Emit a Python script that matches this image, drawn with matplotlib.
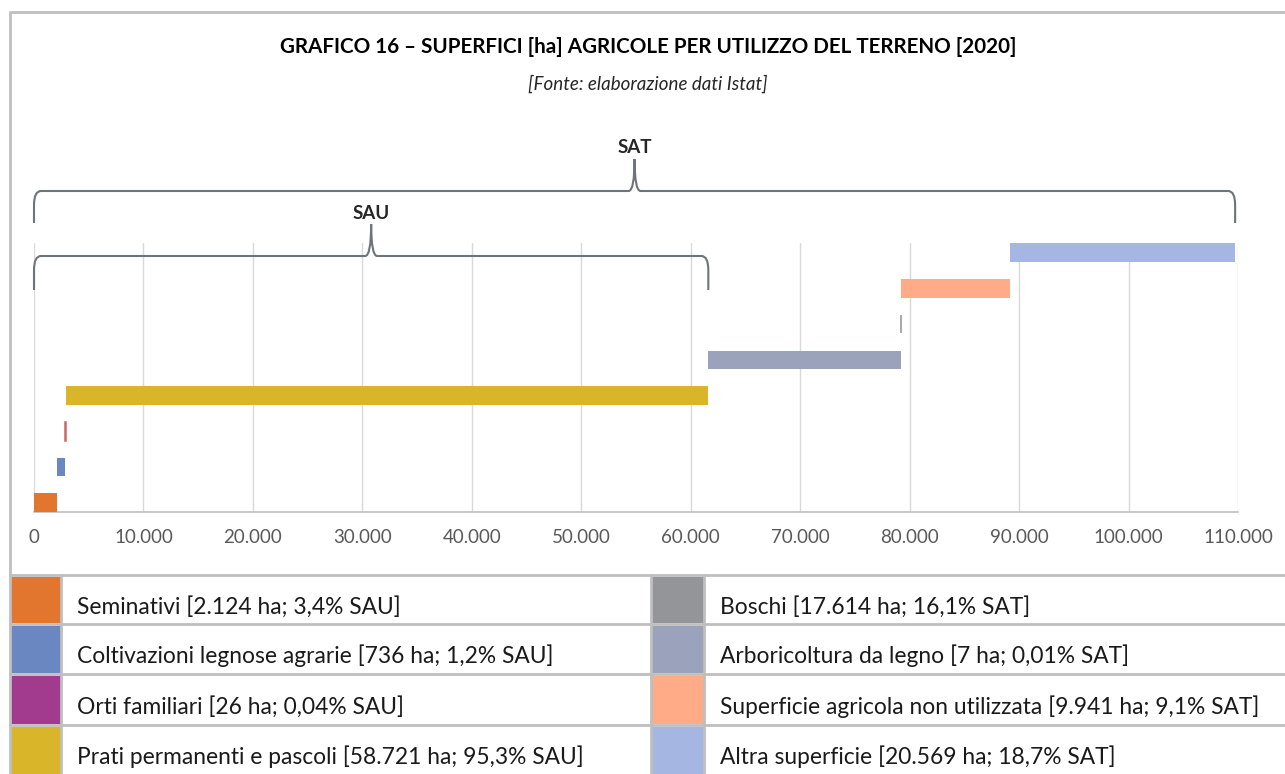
import matplotlib.pyplot as plt
import numpy as np
from matplotlib.path import Path
from matplotlib.patches import PathPatch, Rectangle

plt.rcParams['font.family'] = ['Lato', 'DejaVu Sans']

# dati [ha]
categorie = [
    "Seminativi",
    "Coltivazioni legnose agrarie",
    "Orti familiari",
    "Prati permanenti e pascoli",
    "Boschi",
    "Arboricoltura da legno",
    "Superficie agricola non utilizzata",
    "Altra superficie",
]
ettari = [2124, 736, 26, 58721, 17614, 7, 9941, 20569]
percentuali = ["3,4% SAU", "1,2% SAU", "0,04% SAU", "95,3% SAU",
               "16,1% SAT", "0,01% SAT", "9,1% SAT", "18,7% SAT"]
legend_colors = ["#E2762F", "#6A87C2", "#A23B8D", "#D9B52A",
                 "#939598", "#9BA3BC", "#FFAB88", "#A4B6E1"]
bar_colors = ["#E2762F", "#6A87C2", "#D0675F", "#D9B52A",
              "#9BA3BC", "#909090", "#FFAB88", "#A4B6E1"]
xticks = np.arange(0, 110001, 10000)

titolo = "GRAFICO 16 \u2013 SUPERFICI [ha] AGRICOLE PER UTILIZZO DEL TERRENO [2020]"
sottotitolo = "[Fonte: elaborazione dati Istat]"

valori = np.array(ettari)
fine = np.cumsum(valori)
inizio = fine - valori
sau = fine[3]
sat = fine[-1]

W, H = 1285, 774
fig = plt.figure(figsize=(W / 100, H / 100), dpi=100)
renderer = fig.canvas.get_renderer()


def adatta(t, larghezza):
    # scala il font perche' il testo occupi la larghezza voluta (px)
    w = t.get_window_extent(renderer).width
    t.set_fontsize(t.get_fontsize() * larghezza / w)
    return t.get_fontsize()


# overlay in pixel
ov = fig.add_axes([0, 0, 1, 1])
ov.set_xlim(0, W)
ov.set_ylim(H, 0)
ov.axis("off")
ov.patch.set_alpha(0)

ax_l, ax_r, ax_t, ax_b = 34, 1238, 243, 512
ax = fig.add_axes([ax_l / W, (H - ax_b) / H, (ax_r - ax_l) / W, (ax_b - ax_t) / H])
ax.patch.set_alpha(0)

y = np.arange(len(valori))
lw = [1.1 if v < 100 else 0 for v in valori]
ax.barh(y, valori, left=inizio, height=0.52, color=bar_colors,
        edgecolor=bar_colors, linewidth=lw, zorder=3)

ax.set_xlim(0, 110000)
ax.set_ylim(-0.26, 7.27)
ax.set_xticks(xticks)
ax.set_xticklabels([f"{int(v):,}".replace(",", ".") for v in xticks])
ax.set_yticks([])
ax.tick_params(axis="x", length=0, pad=12, labelsize=13.5, labelcolor="#595959")
ax.grid(axis="x", color="#D9D9D9", linewidth=1, zorder=0)
for s in ["top", "right", "left"]:
    ax.spines[s].set_visible(False)
ax.spines["bottom"].set_color("#BFBFBF")
ax.spines["bottom"].set_linewidth(1.2)

# graffe SAU / SAT
tr = ax.get_xaxis_transform()
px_x = 110000 / (ax_r - ax_l)


def fy(p):
    return (ax_b - p) / (ax_b - ax_t)


def graffa(x0, x1, yh, ye, yt):
    xm = (x0 + x1) / 2
    r = 7 * px_x
    t = 6 * px_x
    verts = [
        (x0, fy(ye)), (x0, fy(yh + 14)),
        (x0, fy(yh)), (x0 + r, fy(yh)),
        (xm - t, fy(yh)),
        (xm, fy(yh)), (xm, fy(yt)),
        (xm, fy(yh)), (xm + t, fy(yh)),
        (x1 - r, fy(yh)),
        (x1, fy(yh)), (x1, fy(yh + 14)),
        (x1, fy(ye)),
    ]
    codes = [Path.MOVETO, Path.LINETO,
             Path.CURVE3, Path.CURVE3,
             Path.LINETO,
             Path.CURVE3, Path.CURVE3,
             Path.CURVE3, Path.CURVE3,
             Path.LINETO,
             Path.CURVE3, Path.CURVE3,
             Path.LINETO]
    ax.add_patch(PathPatch(Path(verts, codes), transform=tr, facecolor="none",
                           edgecolor="#6E747A", linewidth=1.5, clip_on=False, zorder=4))
    return xm


xm = graffa(0, sat, 191, 223, 159)
ax.text(xm, fy(148), "SAT", transform=tr, ha="center", va="center",
        fontsize=13.5, fontweight="bold", color="#262626")
xm = graffa(0, sau, 256, 290, 224)
ax.text(xm, fy(214), "SAU", transform=tr, ha="center", va="center",
        fontsize=13.5, fontweight="bold", color="#262626")

# titolo
t1 = ov.text(648, 47, titolo, ha="center", va="center", fontsize=14,
             fontweight="bold", color="black")
adatta(t1, 744)
ov.text(648, 84, sottotitolo, ha="center", va="center", fontsize=13.5,
        style="italic", color="#262626")

# cornice grafico
grigio = "#BFBFBF"
ov.plot([10, 10, W], [575, 12, 12], color=grigio, linewidth=2, solid_capstyle="butt")

# tabella legenda
righe = [575, 624, 674, 725, 775]
for r in righe:
    ov.plot([10, W], [r, r], color=grigio, linewidth=2)
for xv in [10, 61, 651, 704]:
    ov.plot([xv, xv], [575, 775], color=grigio, linewidth=2)

testi = []
for i, (nome, ha, pc) in enumerate(zip(categorie, ettari, percentuali)):
    col = i // 4
    riga = i % 4
    x_sw = 11 if col == 0 else 652
    w_sw = 50 if col == 0 else 52
    x_tx = 77 if col == 0 else 720
    y0 = righe[riga] + 1.5
    y1 = righe[riga + 1] - 1.5
    ov.add_patch(Rectangle((x_sw, y0), w_sw, y1 - y0, facecolor=legend_colors[i],
                           edgecolor="none"))
    ha_txt = f"{ha:,}".replace(",", ".")
    t = ov.text(x_tx, (y0 + y1) / 2 + 7, f"{nome} [{ha_txt} ha; {pc}]", ha="left",
                va="center", fontsize=14, color="#1A1A1A")
    testi.append(t)

dim = adatta(testi[6], 540)
for t in testi:
    t.set_fontsize(dim)

fig.savefig("out.png", dpi=100)
